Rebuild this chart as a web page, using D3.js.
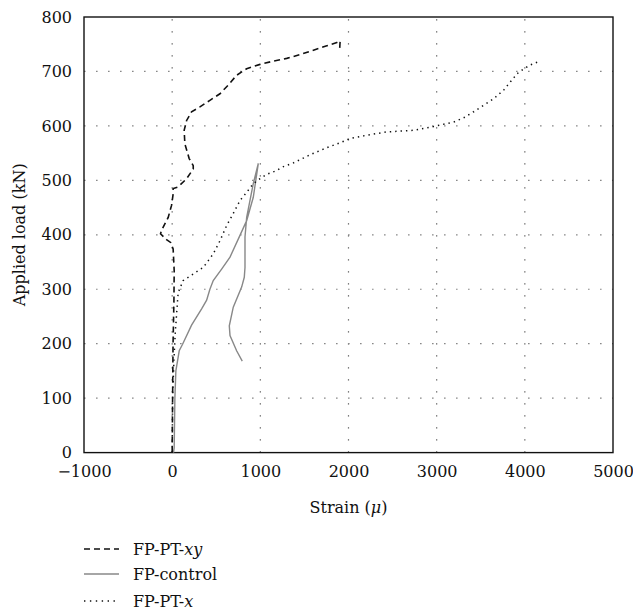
<!DOCTYPE html>
<html>
<head>
<meta charset="utf-8">
<script src="https://cdn.jsdelivr.net/npm/d3@7"></script>
<style>
body { margin: 0; background: #fff; }
svg text { fill: #111; }
</style>
</head>
<body>
<div id="figzone"></div>
<script>
// data (strain in micro, load in kN)
var xyStrain = [0, 5, 10, 20, 23, 11, -18, -64, -132, -120, -83, -45, -7, 11, 11, 68, 164, 239, 239, 193, 144, 136, 164, 220, 315, 428, 542, 636, 731, 845, 997, 1148, 1300, 1451, 1602, 1754, 1868, 1905, 1898];
var xyLoad   = [0, 100, 200, 279, 334, 374, 386, 391, 402, 408, 420, 432, 454, 475, 485, 488, 503, 521, 527, 540, 567, 592, 610, 626, 635, 647, 659, 675, 693, 705, 713, 719, 724, 731, 739, 747, 753, 756, 736];

var ctrlStrain = [15, 23, 31, 42, 80, 118, 220, 334, 391, 428, 466, 561, 656, 769, 845, 920, 977, 920, 845, 826, 826, 818, 788, 693, 648, 656, 731, 795];
var ctrlLoad   = [0, 9, 101, 150, 187, 199, 234, 264, 280, 300, 316, 337, 359, 399, 426, 469, 531, 494, 432, 396, 340, 322, 304, 267, 233, 215, 187, 168];

var xStrain = [0, 5, 20, 35, 55, 68, 125, 239, 352, 466, 542, 618, 693, 769, 845, 920, 997, 1073, 1186, 1243, 1375, 1565, 1754, 1905, 2019, 2209, 2436, 2739, 2966, 3080, 3193, 3307, 3420, 3534, 3648, 3761, 3837, 3913, 3989, 4065, 4141, 4178];
var xLoad   = [0, 100, 170, 220, 265, 294, 316, 328, 340, 365, 389, 417, 439, 463, 478, 494, 503, 511, 518, 524, 532, 547, 560, 569, 577, 583, 589, 592, 599, 603, 607, 615, 626, 638, 650, 666, 681, 696, 705, 712, 717, 715];

var xTicks = [-1000, 0, 1000, 2000, 3000, 4000, 5000];
var yTicks = [0, 100, 200, 300, 400, 500, 600, 700, 800];

var seriesNames = ["FP-PT-", "FP-control", "FP-PT-"];
var seriesItalic = ["xy", "", "x"];

var width = 633, height = 612;
var margin = {left: 84, right: 20, top: 17, bottom: 160};
var fontSize = "16px";
var fontFam = "'DejaVu Serif', serif";

var svg = d3.select("#figzone").append("svg").attr("width", width).attr("height", height)
    .attr("font-family", fontFam);

var x = d3.scaleLinear().domain([-1000, 5000]).range([margin.left, width - margin.right]);
var y = d3.scaleLinear().domain([0, 800]).range([height - margin.bottom + 0.6, margin.top]);

// grid
var gGrid = svg.append("g");
gGrid.selectAll("line.v").data(xTicks.slice(1, -1)).enter().append("line")
    .attr("class", "v")
    .attr("x1", function(d){return x(d);}).attr("x2", function(d){return x(d);})
    .attr("y1", y(0)).attr("y2", y(800))
    .style("stroke", "#555").style("stroke-width", 1.2).style("stroke-dasharray", "1.3,10.7");
gGrid.selectAll("line.h").data(yTicks.slice(1, -1)).enter().append("line")
    .attr("class", "h")
    .attr("x1", x(-1000)).attr("x2", x(5000))
    .attr("y1", function(d){return y(d);}).attr("y2", function(d){return y(d);})
    .style("stroke", "#888").style("stroke-width", 1.2).style("stroke-dasharray", "1.6,10.4");

// axes (labels only, no ticks)
var xAxis = d3.axisBottom(x).tickValues(xTicks).tickSize(0).tickPadding(13)
    .tickFormat(function(d){return d < 0 ? "\u2212" + Math.abs(d) : d;});
var yAxis = d3.axisLeft(y).tickValues(yTicks).tickSize(0).tickPadding(12);

var gx = svg.append("g").attr("transform", "translate(0," + y(0) + ")").call(xAxis);
var gy = svg.append("g").attr("transform", "translate(" + x(-1000) + ",0)").call(yAxis);
[gx, gy].forEach(function(g){
    g.attr("font-family", fontFam).attr("font-size", fontSize);
    g.select(".domain").remove();
    g.selectAll("text").style("fill", "#111");
});

// frame
svg.append("rect")
    .attr("x", x(-1000)).attr("y", y(800))
    .attr("width", x(5000) - x(-1000)).attr("height", y(0) - y(800))
    .style("fill", "none").style("stroke", "#111").style("stroke-width", 1.4);

// lines
var line = d3.line().x(function(d){return x(d[0]);}).y(function(d){return y(d[1]);});
function pairs(a, b){ return a.map(function(v, i){ return [v, b[i]]; }); }

var gLine = svg.append("g").attr("class", "lines");
gLine.append("path").datum(pairs(ctrlStrain, ctrlLoad)).attr("d", line)
    .style("fill", "none").style("stroke", "#888").style("stroke-width", 1.4);
gLine.append("path").datum(pairs(xStrain, xLoad)).attr("d", line)
    .style("fill", "none").style("stroke", "#111").style("stroke-width", 1.5)
    .style("stroke-dasharray", "1.4,4");
gLine.append("path").datum(pairs(xyStrain, xyLoad)).attr("d", line)
    .style("fill", "none").style("stroke", "#111").style("stroke-width", 1.6)
    .style("stroke-dasharray", "6,4");

// axis titles
var xt = svg.append("text").attr("x", (x(-1000) + x(5000)) / 2).attr("y", 513)
    .attr("text-anchor", "middle").attr("font-size", fontSize);
xt.append("tspan").text("Strain (");
xt.append("tspan").attr("font-style", "italic").text("\u03bc");
xt.append("tspan").text(")");

svg.append("text")
    .attr("transform", "translate(25," + ((y(0) + y(800)) / 2) + ") rotate(-90)")
    .attr("text-anchor", "middle").attr("font-size", fontSize)
    .text("Applied load (kN)");

// legend
var legStyles = [
    {stroke: "#111", dash: "6,4", w: 1.4},
    {stroke: "#888", dash: null, w: 1.4},
    {stroke: "#111", dash: "1.4,4.5", w: 1.3}
];
var legY = [549, 574, 601];
var gLeg = svg.append("g");
seriesNames.forEach(function(name, i){
    gLeg.append("line").attr("x1", 84).attr("x2", 119).attr("y1", legY[i]).attr("y2", legY[i])
        .style("stroke", legStyles[i].stroke).style("stroke-width", legStyles[i].w)
        .style("stroke-dasharray", legStyles[i].dash);
    var t = gLeg.append("text").attr("x", 133).attr("y", legY[i] + 6).attr("font-size", fontSize);
    t.append("tspan").text(name);
    if (seriesItalic[i]) t.append("tspan").attr("font-style", "italic").text(seriesItalic[i]);
});
</script>
</body>
</html>
